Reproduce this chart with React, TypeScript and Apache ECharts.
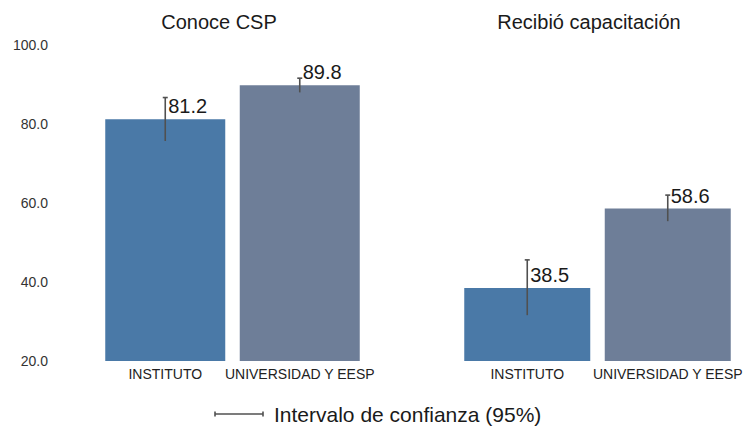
import React, { useEffect, useRef } from "react";
import * as echarts from "echarts";

const categories = ["INSTITUTO", "UNIVERSIDAD Y EESP"];
const panelTitles = ["Conoce CSP", "Recibió capacitación"];
const conoceValues = [81.2, 89.8];
const conoceLow = [75.7, 88.0];
const conoceHigh = [86.7, 91.6];
const capacValues = [38.5, 58.6];
const capacLow = [31.6, 55.4];
const capacHigh = [45.6, 62.0];
const yMin = 20;
const yMax = 100;
const yInterval = 20;
const legendText = "Intervalo de confianza (95%)";

const barColors = ["#4a79a7", "#6e7e98"];
const errColor = "#505050";
const FONT = "'Liberation Sans', Arial, sans-serif";

function errData(values: number[], low: number[], high: number[]) {
  return values.map((v, i) => [i, low[i], high[i], v]);
}

function barData(values: number[]) {
  return values.map((v, i) => ({ value: v, itemStyle: { color: barColors[i] } }));
}

const renderErr = (params: any, api: any) => {
  const cat = api.value(0);
  const lo = api.coord([cat, api.value(1)]);
  const hi = api.coord([cat, api.value(2)]);
  const top = api.coord([cat, api.value(3)]);
  const x = hi[0];
  const c = 2.5;
  const st = { stroke: errColor, lineWidth: 1.6 };
  return {
    type: "group",
    children: [
      { type: "line", shape: { x1: x, y1: lo[1], x2: x, y2: hi[1] }, style: st },
      { type: "line", shape: { x1: x - c, y1: hi[1], x2: x + c, y2: hi[1] }, style: st },
      {
        type: "text",
        style: {
          text: Number(api.value(3)).toFixed(1),
          x: x + 3,
          y: top[1] - 3,
          align: "left",
          verticalAlign: "bottom",
          fontSize: 20,
          fontFamily: FONT,
          fill: "#1a1a1a",
        },
      },
    ],
  };
};

export default function App() {
  const ref = useRef<HTMLDivElement>(null);
  useEffect(() => {
    if (!ref.current) return;
    const chart = echarts.init(ref.current, null, { renderer: "svg" });
    const xAxisCommon = {
      type: "category",
      data: categories,
      axisLine: { show: false },
      axisTick: { show: false },
      splitLine: { show: false },
      axisLabel: { fontSize: 14, color: "#222", margin: 6, fontFamily: FONT, interval: 0 },
    };
    const yAxisCommon = {
      type: "value",
      min: yMin,
      max: yMax,
      interval: yInterval,
      axisLine: { show: false },
      axisTick: { show: false },
      splitLine: { show: false },
    };
    chart.setOption({
      animation: false,
      backgroundColor: "#ffffff",
      textStyle: { fontFamily: FONT },
      grid: [
        { left: 98, width: 269, top: 45, height: 316 },
        { left: 457, width: 281, top: 45, height: 316 },
      ],
      xAxis: [
        { ...xAxisCommon, gridIndex: 0 },
        { ...xAxisCommon, gridIndex: 1 },
      ],
      yAxis: [
        {
          ...yAxisCommon,
          gridIndex: 0,
          axisLabel: {
            fontSize: 14,
            color: "#333",
            margin: 50,
            fontFamily: FONT,
            formatter: (v: number) => v.toFixed(1),
          },
        },
        { ...yAxisCommon, gridIndex: 1, show: false },
      ],
      series: [
        {
          type: "bar",
          xAxisIndex: 0,
          yAxisIndex: 0,
          barWidth: 120,
          data: barData(conoceValues),
        },
        {
          type: "bar",
          xAxisIndex: 1,
          yAxisIndex: 1,
          barWidth: 126,
          data: barData(capacValues),
        },
        {
          type: "custom",
          xAxisIndex: 0,
          yAxisIndex: 0,
          renderItem: renderErr,
          encode: { x: 0, y: [1, 2] },
          data: errData(conoceValues, conoceLow, conoceHigh),
          z: 10,
        },
        {
          type: "custom",
          xAxisIndex: 1,
          yAxisIndex: 1,
          renderItem: renderErr,
          encode: { x: 0, y: [1, 2] },
          data: errData(capacValues, capacLow, capacHigh),
          z: 10,
        },
      ],
      graphic: [
        {
          type: "text",
          x: 219,
          y: 22,
          style: {
            text: panelTitles[0],
            align: "center",
            verticalAlign: "middle",
            fontSize: 20,
            fontFamily: FONT,
            fill: "#1a1a1a",
          },
        },
        {
          type: "text",
          x: 589,
          y: 22,
          style: {
            text: panelTitles[1],
            align: "center",
            verticalAlign: "middle",
            fontSize: 20,
            fontFamily: FONT,
            fill: "#1a1a1a",
          },
        },
        {
          type: "line",
          shape: { x1: 215, y1: 414, x2: 263, y2: 414 },
          style: { stroke: errColor, lineWidth: 1.6 },
        },
        {
          type: "line",
          shape: { x1: 215, y1: 411.5, x2: 215, y2: 416.5 },
          style: { stroke: errColor, lineWidth: 1.6 },
        },
        {
          type: "line",
          shape: { x1: 263, y1: 411.5, x2: 263, y2: 416.5 },
          style: { stroke: errColor, lineWidth: 1.6 },
        },
        {
          type: "text",
          x: 274,
          y: 414,
          style: {
            text: legendText,
            align: "left",
            verticalAlign: "middle",
            fontSize: 21,
            fontFamily: FONT,
            fill: "#1a1a1a",
          },
        },
      ],
    });
    return () => chart.dispose();
  }, []);
  return (
    <div
      ref={ref}
      style={{ position: "fixed", left: 0, top: 0, width: 747, height: 428, background: "#fff" }}
    />
  );
}
